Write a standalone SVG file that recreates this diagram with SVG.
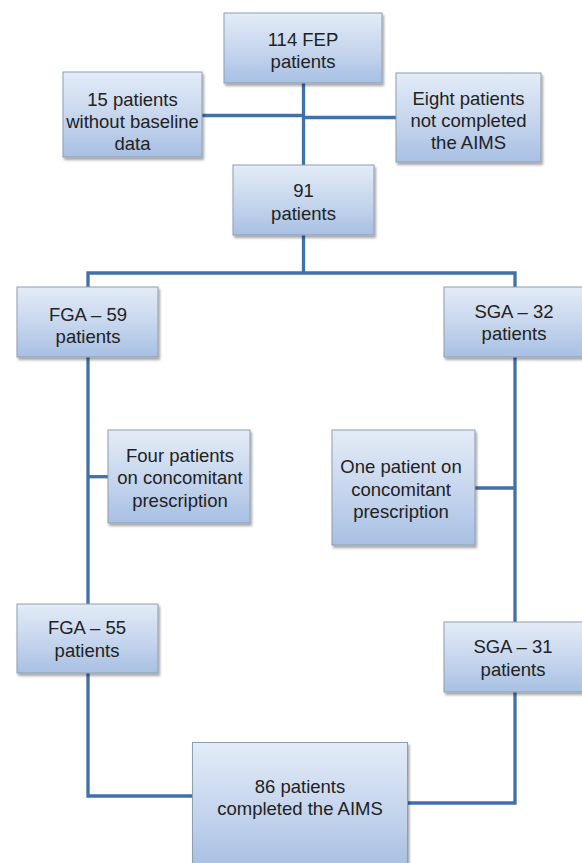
<svg xmlns="http://www.w3.org/2000/svg" width="582" height="863" viewBox="0 0 582 863">
<defs>
<linearGradient id="g" x1="0" y1="0" x2="0" y2="1">
<stop offset="0" stop-color="#e3ecf7"/>
<stop offset="0.5" stop-color="#c8d7ee"/>
<stop offset="1" stop-color="#a8c0e3"/>
</linearGradient>
<filter id="sh" x="-10%" y="-10%" width="125%" height="130%">
<feDropShadow dx="1.5" dy="2.5" stdDeviation="1.2" flood-color="#000" flood-opacity="0.35"/>
</filter>
</defs>
<style>
.box{fill:url(#g);stroke:#8e9db0;stroke-width:1;filter:url(#sh)}
.t{font-family:"Liberation Sans",Arial,sans-serif;font-size:18.5px;fill:#222;text-anchor:middle}
.c{fill:none;stroke:#4170aa;stroke-width:3.3;stroke-linejoin:miter}
</style>
<rect width="582" height="863" fill="#fff"/>
<g id="connectors">
<path class="c" d="M303.5,83 V165"/>
<path class="c" d="M202,115.5 H303.5"/>
<path class="c" d="M303.5,117.5 H396"/>
<path class="c" d="M303.5,235 V273"/>
<path class="c" d="M88,287 V273 H515 V287"/>
<path class="c" d="M88,357 V604"/>
<path class="c" d="M88,476.7 H108"/>
<path class="c" d="M515,357 V622"/>
<path class="c" d="M475,488 H515"/>
<path class="c" d="M88,673 V796 H192.5"/>
<path class="c" d="M515,692 V803 H407.5"/>
</g>
<g id="n1"><rect class="box" x="224" y="13" width="158" height="70"/><text class="t" x="303" y="46">114 FEP</text><text class="t" x="303" y="68">patients</text></g>
<g id="n2"><rect class="box" x="63" y="72" width="139" height="85"/><text class="t" x="132.5" y="105.5">15 patients</text><text class="t" x="132.5" y="127.5">without baseline</text><text class="t" x="132.5" y="149.5">data</text></g>
<g id="n3"><rect class="box" x="396" y="73" width="145" height="89"/><text class="t" x="468.5" y="105">Eight patients</text><text class="t" x="468.5" y="127">not completed</text><text class="t" x="468.5" y="149">the AIMS</text></g>
<g id="n4"><rect class="box" x="233" y="165" width="141" height="70"/><text class="t" x="303.5" y="197">91</text><text class="t" x="303.5" y="219.5">patients</text></g>
<g id="n5"><rect class="box" x="17" y="287" width="141" height="70"/><text class="t" x="88" y="320.5">FGA – 59</text><text class="t" x="88" y="343">patients</text></g>
<g id="n6"><rect class="box" x="444" y="287" width="142" height="70"/><text class="t" x="514" y="317.5">SGA – 32</text><text class="t" x="514" y="340">patients</text></g>
<g id="n7"><rect class="box" x="108" y="430" width="142" height="93"/><text class="t" x="180" y="461.5">Four patients</text><text class="t" x="180" y="484">on concomitant</text><text class="t" x="180" y="506.5">prescription</text></g>
<g id="n8"><rect class="box" x="332" y="430" width="143" height="115"/><text class="t" x="401" y="473">One patient on</text><text class="t" x="401" y="495.5">concomitant</text><text class="t" x="401" y="517.5">prescription</text></g>
<g id="n9"><rect class="box" x="17" y="604" width="141" height="69"/><text class="t" x="87" y="634">FGA – 55</text><text class="t" x="87" y="657">patients</text></g>
<g id="n10"><rect class="box" x="444" y="622" width="142" height="70"/><text class="t" x="513" y="653">SGA – 31</text><text class="t" x="513" y="676">patients</text></g>
<g id="n11"><rect class="box" x="192.5" y="742.5" width="215" height="125"/><text class="t" x="300" y="793">86 patients</text><text class="t" x="300" y="814.5">completed the AIMS</text></g>
</svg>
